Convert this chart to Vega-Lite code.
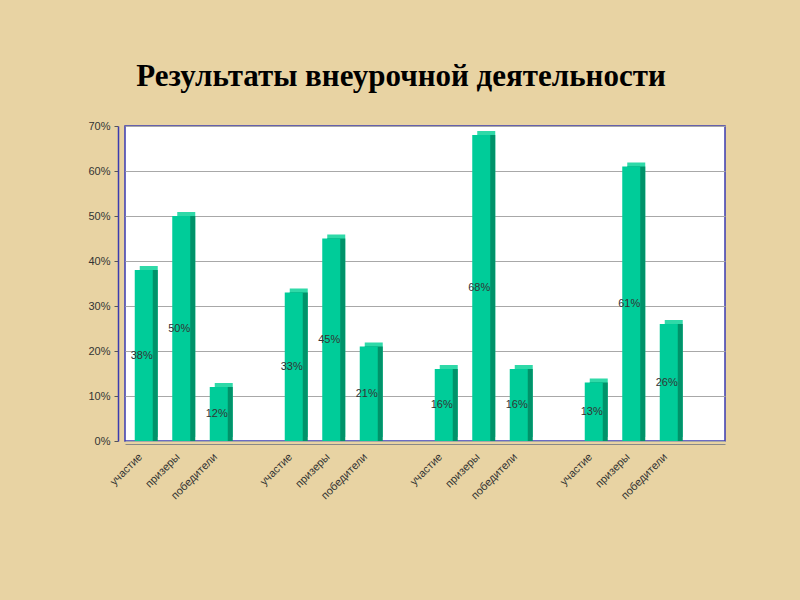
{
  "$schema": "https://vega.github.io/schema/vega-lite/v6.json",
  "autosize": {"type": "none"},
  "width": 600,
  "height": 315,
  "padding": {"left": 125, "top": 126, "right": 75, "bottom": 159},
  "background": "#E8D3A3",
  "title": {
    "text": "Результаты  внеурочной деятельности",
    "font": "Liberation Serif",
    "fontSize": 31,
    "fontWeight": "bold",
    "color": "#000000",
    "anchor": "middle",
    "frame": "group",
    "dx": -24,
    "offset": 27
  },
  "config": {
    "view": {"fill": "#FFFFFF", "stroke": "#3B3BB0", "strokeWidth": 1.5},
    "axis": {"labelFont": "Liberation Sans", "labelFontSize": 11, "labelColor": "#333333"}
  },
  "data": {
    "values": [
      {"slot": "1|участие", "share": 0.38},
      {"slot": "2|призеры", "share": 0.50},
      {"slot": "3|победители", "share": 0.12},
      {"slot": "5|участие", "share": 0.33},
      {"slot": "6|призеры", "share": 0.45},
      {"slot": "7|победители", "share": 0.21},
      {"slot": "9|участие", "share": 0.16},
      {"slot": "10|призеры", "share": 0.68},
      {"slot": "11|победители", "share": 0.16},
      {"slot": "13|участие", "share": 0.13},
      {"slot": "14|призеры", "share": 0.61},
      {"slot": "15|победители", "share": 0.26}
    ]
  },
  "encoding": {
    "x": {
      "field": "slot",
      "type": "nominal",
      "scale": {
        "domain": ["1|участие", "2|призеры", "3|победители", "4|", "5|участие", "6|призеры", "7|победители", "8|", "9|участие", "10|призеры", "11|победители", "12|", "13|участие", "14|призеры", "15|победители", "16|"],
        "paddingInner": 0.52,
        "paddingOuter": 0.26
      },
      "axis": {
        "title": null,
        "labelExpr": "split(datum.label, '|')[1]",
        "labelAngle": -45,
        "labelAlign": "right",
        "labelBaseline": "middle",
        "labelPadding": 11,
        "labelOffset": -3,
        "ticks": false,
        "domainColor": "#888888",
        "offset": 3
      }
    },
    "y": {
      "field": "share",
      "type": "quantitative",
      "scale": {"domain": [0, 0.7], "nice": false},
      "axis": {
        "title": null,
        "format": ".0%",
        "values": [0, 0.1, 0.2, 0.3, 0.4, 0.5, 0.6, 0.7],
        "grid": true,
        "gridColor": "#A8A8A8",
        "gridWidth": 1.2,
        "domainColor": "#3B3BB0",
        "domainWidth": 1.5,
        "tickColor": "#555555",
        "tickSize": 4,
        "labelPadding": 4,
        "offset": 7
      }
    }
  },
  "layer": [
    {
      "mark": {"type": "bar", "color": "#2FD9A8", "xOffset": 5, "yOffset": -4}
    },
    {
      "mark": {"type": "bar", "color": "#00936A", "xOffset": 5}
    },
    {
      "mark": {"type": "bar", "color": "#00CC99"}
    },
    {
      "transform": [{"calculate": "datum.share / 2", "as": "mid"}],
      "mark": {"type": "text", "font": "Liberation Sans", "fontSize": 11, "color": "#333333", "dx": -2},
      "encoding": {
        "y": {"field": "mid", "type": "quantitative"},
        "text": {"field": "share", "type": "quantitative", "format": ".0%"}
      }
    }
  ]
}
